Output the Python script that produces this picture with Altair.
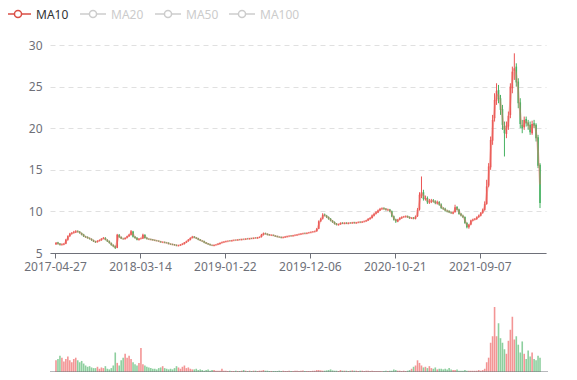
import altair as alt
import pandas as pd

# ---------------- data (one candle ≈ one trading week) ----------------
open_ = [
    6.05, 6.25, 6.12, 5.98, 6.02, 6.12, 6.58, 7.02, 7.32, 7.42,
    7.48, 7.62, 7.56, 7.38, 7.22, 6.98, 6.92, 6.78, 6.68, 6.52,
    6.38, 6.32, 6.46, 6.54, 6.72, 6.82, 6.58, 6.42, 6.18, 5.96,
    5.82, 5.62, 7.18, 6.92, 6.72, 6.68, 6.82, 7.02, 7.18, 7.58,
    6.96, 6.82, 6.58, 6.72, 6.74, 7.18, 6.82, 6.68, 6.66, 6.62,
    6.56, 6.48, 6.46, 6.38, 6.28, 6.32, 6.24, 6.22, 6.08, 6.06,
    6.02, 5.96, 5.88, 5.92, 6.02, 6.08, 6.26, 6.42, 6.58, 6.82,
    6.96, 6.84, 6.76, 6.62, 6.48, 6.42, 6.26, 6.14, 6.06, 5.94,
    5.88, 5.96, 6.02, 6.08, 6.22, 6.28, 6.36, 6.42, 6.47, 6.44,
    6.52, 6.56, 6.54, 6.62, 6.58, 6.67, 6.64, 6.72, 6.68, 6.77,
    6.74, 6.82, 6.78, 6.86, 6.92, 7.18, 7.36, 7.28, 7.22, 7.12,
    7.16, 7.08, 7.02, 6.94, 6.92, 6.84, 6.88, 6.94, 7.02, 7.08,
    7.04, 7.12, 7.14, 7.22, 7.24, 7.32, 7.38, 7.34, 7.42, 7.46,
    7.52, 7.56, 7.62, 7.92, 8.82, 9.12, 9.62, 9.48, 9.32, 9.12,
    8.88, 8.72, 8.52, 8.38, 8.46, 8.62, 8.52, 8.62, 8.52, 8.62,
    8.58, 8.68, 8.58, 8.66, 8.74, 8.68, 8.76, 8.82, 8.92, 9.08,
    9.22, 9.48, 9.72, 9.88, 10.12, 10.28, 10.38, 10.32, 10.16, 10.22,
    10.02, 9.42, 9.04, 8.78, 9.02, 9.18, 9.32, 9.34, 9.42, 9.32,
    9.18, 9.24, 9.12, 9.42, 10.22, 11.90, 12.30, 11.45, 11.62, 11.08,
    11.18, 11.32, 11.22, 10.96, 11.12, 10.82, 10.38, 10.32, 10.08, 10.04,
    9.88, 9.76, 9.92, 10.52, 10.22, 9.72, 9.48, 9.32, 8.62, 8.08,
    8.42, 8.92, 9.04, 9.08, 9.32, 9.48, 9.82, 10.18, 10.90, 13.10,
    15.30, 18.50, 21.20, 23.30, 24.60, 23.60, 22.30, 20.30, 19.30, 20.20,
    21.60, 24.80, 26.90, 27.40, 25.60, 23.10, 20.40, 20.10, 21.10, 20.70,
    20.40, 19.40, 20.60, 20.40, 18.90, 15.60,
]
close = [
    6.20, 6.10, 6.00, 6.05, 6.10, 6.60, 7.00, 7.30, 7.40, 7.50,
    7.60, 7.55, 7.40, 7.20, 7.00, 6.90, 6.80, 6.70, 6.55, 6.40,
    6.30, 6.45, 6.55, 6.70, 6.80, 6.60, 6.40, 6.20, 5.95, 5.80,
    5.60, 7.20, 6.90, 6.75, 6.70, 6.80, 7.00, 7.20, 7.60, 6.95,
    6.80, 6.60, 6.70, 6.75, 7.20, 6.80, 6.70, 6.65, 6.60, 6.55,
    6.50, 6.45, 6.40, 6.30, 6.30, 6.25, 6.20, 6.10, 6.05, 6.00,
    5.95, 5.90, 5.90, 6.00, 6.10, 6.25, 6.40, 6.60, 6.80, 6.95,
    6.85, 6.75, 6.60, 6.50, 6.40, 6.25, 6.15, 6.05, 5.95, 5.90,
    5.95, 6.00, 6.10, 6.20, 6.30, 6.35, 6.40, 6.45, 6.45, 6.50,
    6.55, 6.55, 6.60, 6.60, 6.65, 6.65, 6.70, 6.70, 6.75, 6.75,
    6.80, 6.80, 6.85, 6.90, 7.20, 7.35, 7.30, 7.20, 7.15, 7.15,
    7.10, 7.00, 6.95, 6.90, 6.85, 6.90, 6.95, 7.00, 7.05, 7.05,
    7.10, 7.15, 7.20, 7.25, 7.30, 7.35, 7.35, 7.40, 7.45, 7.50,
    7.55, 7.60, 7.90, 8.80, 9.10, 9.60, 9.50, 9.30, 9.10, 8.90,
    8.70, 8.50, 8.40, 8.45, 8.60, 8.55, 8.60, 8.55, 8.60, 8.60,
    8.65, 8.60, 8.65, 8.70, 8.70, 8.75, 8.80, 8.90, 9.10, 9.20,
    9.50, 9.70, 9.90, 10.10, 10.30, 10.35, 10.30, 10.20, 10.20, 10.00,
    9.40, 9.00, 8.80, 9.00, 9.20, 9.30, 9.35, 9.40, 9.30, 9.20,
    9.20, 9.15, 9.40, 10.20, 12.00, 12.30, 11.50, 11.60, 11.10, 11.20,
    11.30, 11.20, 11.00, 11.10, 10.80, 10.40, 10.30, 10.10, 10.00, 9.90,
    9.80, 9.90, 10.50, 10.20, 9.70, 9.50, 9.30, 8.60, 8.10, 8.40,
    8.90, 9.00, 9.10, 9.30, 9.50, 9.80, 10.20, 10.90, 13.00, 15.40,
    18.60, 21.00, 23.40, 24.50, 23.50, 22.20, 20.40, 19.40, 20.30, 21.50,
    25.00, 26.80, 27.20, 25.50, 23.00, 20.50, 20.00, 21.00, 20.60, 20.30,
    19.50, 20.50, 20.30, 18.80, 15.50, 11.00,
]
high = [
    6.32, 6.34, 6.20, 6.14, 6.18, 6.70, 7.12, 7.42, 7.52, 7.66,
    7.74, 7.72, 7.64, 7.46, 7.30, 7.06, 7.00, 6.86, 6.76, 6.60,
    6.46, 6.52, 6.62, 6.78, 6.92, 6.90, 6.66, 6.50, 6.26, 6.04,
    5.90, 7.30, 7.28, 7.00, 6.82, 6.88, 7.08, 7.30, 7.76, 7.66,
    7.04, 6.90, 6.78, 6.84, 7.32, 7.24, 6.90, 6.76, 6.72, 6.68,
    6.62, 6.56, 6.52, 6.44, 6.38, 6.38, 6.30, 6.28, 6.16, 6.12,
    6.08, 6.02, 5.98, 6.06, 6.16, 6.32, 6.48, 6.68, 6.88, 7.06,
    7.04, 6.92, 6.82, 6.68, 6.54, 6.48, 6.32, 6.20, 6.12, 6.00,
    6.00, 6.06, 6.16, 6.26, 6.36, 6.40, 6.46, 6.50, 6.52, 6.56,
    6.60, 6.62, 6.66, 6.68, 6.70, 6.72, 6.76, 6.78, 6.80, 6.82,
    6.86, 6.88, 6.92, 6.98, 7.30, 7.46, 7.44, 7.36, 7.28, 7.22,
    7.22, 7.14, 7.08, 7.00, 6.98, 6.96, 7.02, 7.06, 7.12, 7.14,
    7.16, 7.22, 7.26, 7.32, 7.36, 7.42, 7.44, 7.46, 7.52, 7.58,
    7.62, 7.68, 8.00, 8.92, 9.24, 9.78, 9.74, 9.58, 9.40, 9.20,
    8.96, 8.80, 8.60, 8.52, 8.68, 8.70, 8.68, 8.70, 8.68, 8.70,
    8.72, 8.74, 8.72, 8.78, 8.80, 8.82, 8.88, 8.98, 9.20, 9.32,
    9.62, 9.84, 10.02, 10.22, 10.42, 10.48, 10.50, 10.40, 10.32, 10.30,
    10.10, 9.50, 9.12, 9.10, 9.30, 9.40, 9.46, 9.50, 9.50, 9.40,
    9.30, 9.32, 9.50, 10.40, 12.30, 14.20, 12.60, 11.90, 11.80, 11.50,
    11.50, 11.48, 11.34, 11.30, 11.24, 10.96, 10.52, 10.44, 10.20, 10.14,
    9.98, 10.00, 10.80, 10.64, 10.32, 9.82, 9.60, 9.40, 8.72, 8.50,
    9.00, 9.12, 9.20, 9.40, 9.62, 9.92, 10.34, 11.20, 13.80, 15.80,
    19.00, 21.60, 24.20, 25.40, 25.20, 24.00, 22.80, 20.80, 20.80, 22.00,
    25.40, 27.40, 29.00, 27.80, 26.00, 23.60, 21.00, 21.40, 21.40, 21.00,
    20.80, 20.90, 21.00, 20.60, 19.20, 15.80,
]
low = [
    5.96, 6.02, 5.90, 5.90, 5.94, 6.06, 6.48, 6.94, 7.22, 7.34,
    7.40, 7.46, 7.32, 7.12, 6.92, 6.82, 6.72, 6.62, 6.46, 6.32,
    6.22, 6.26, 6.40, 6.48, 6.66, 6.52, 6.32, 6.12, 5.88, 5.70,
    5.48, 5.58, 6.82, 6.68, 6.60, 6.62, 6.76, 6.94, 7.10, 6.86,
    6.72, 6.52, 6.50, 6.66, 6.68, 6.72, 6.62, 6.58, 6.54, 6.48,
    6.44, 6.40, 6.34, 6.24, 6.22, 6.18, 6.14, 6.04, 5.98, 5.94,
    5.88, 5.82, 5.80, 5.86, 5.96, 6.02, 6.20, 6.36, 6.52, 6.76,
    6.78, 6.68, 6.54, 6.44, 6.34, 6.18, 6.08, 5.98, 5.88, 5.84,
    5.82, 5.90, 5.96, 6.02, 6.16, 6.22, 6.30, 6.36, 6.40, 6.38,
    6.46, 6.48, 6.48, 6.54, 6.52, 6.60, 6.58, 6.64, 6.62, 6.68,
    6.68, 6.74, 6.72, 6.80, 6.86, 7.10, 7.22, 7.12, 7.08, 7.06,
    7.04, 6.94, 6.88, 6.84, 6.78, 6.78, 6.82, 6.88, 6.96, 6.98,
    6.98, 7.06, 7.08, 7.16, 7.18, 7.26, 7.28, 7.28, 7.36, 7.40,
    7.46, 7.50, 7.56, 7.86, 8.72, 9.02, 9.40, 9.20, 9.00, 8.80,
    8.62, 8.42, 8.32, 8.30, 8.40, 8.48, 8.46, 8.48, 8.46, 8.52,
    8.52, 8.54, 8.52, 8.60, 8.62, 8.62, 8.70, 8.76, 8.86, 9.00,
    9.14, 9.40, 9.64, 9.80, 10.04, 10.20, 10.20, 10.10, 10.06, 9.90,
    9.30, 8.90, 8.62, 8.70, 8.94, 9.10, 9.24, 9.26, 9.22, 9.10,
    9.08, 9.06, 9.04, 9.34, 10.10, 11.60, 11.30, 11.30, 10.90, 10.90,
    11.00, 11.06, 10.86, 10.82, 10.68, 10.30, 10.18, 9.98, 9.88, 9.80,
    9.70, 9.66, 9.84, 10.10, 9.60, 9.40, 9.20, 8.50, 7.96, 7.92,
    8.34, 8.82, 8.94, 8.98, 9.22, 9.40, 9.72, 10.08, 10.80, 12.90,
    15.00, 18.00, 20.80, 22.80, 23.00, 21.60, 19.80, 16.60, 18.80, 19.80,
    21.20, 24.20, 25.80, 25.00, 22.40, 20.00, 19.40, 19.80, 20.20, 19.80,
    19.20, 19.20, 20.00, 18.40, 15.20, 10.40,
]
volume = [
    18, 20, 25, 22, 16, 20, 24, 18, 15, 20,
    22, 18, 15, 17, 13, 10, 8, 9, 7, 6,
    6, 8, 5, 7, 6, 9, 5, 4, 6, 10,
    30, 14, 10, 18, 22, 28, 22, 25, 20, 15,
    12, 10, 14, 37, 12, 10, 8, 7, 6, 5,
    5, 4, 6, 7, 9, 6, 5, 4, 5, 4,
    6, 9, 7, 5, 8, 10, 6, 7, 5, 4,
    4, 5, 3, 4, 3, 2, 3, 4, 2, 3,
    3, 2, 2, 2, 5, 2, 2, 1.5, 2, 1.5,
    1.5, 2, 1.5, 1.5, 2, 3, 2, 1.5, 2, 1.5,
    2, 2, 1.5, 2, 2, 3, 2, 2, 1.5, 1.5,
    1.5, 1.5, 1.5, 2, 1.5, 2, 1.5, 1.5, 2, 1.5,
    1.5, 2, 2, 1.5, 2, 2.5, 1.5, 1.5, 1.5, 1.5,
    2, 2, 3, 3, 2.5, 2, 2, 2.5, 3, 4,
    2.5, 2, 2, 1.5, 3, 2, 2, 2, 1.5, 2,
    2.5, 2, 2, 1.5, 2, 2, 1.5, 2, 2, 1.5,
    2, 1.5, 1.5, 1.5, 1.5, 1, 1.5, 2, 1.5, 2,
    2, 4, 3, 2, 2, 1.5, 2, 1.5, 2, 3,
    5, 8, 10, 18, 14, 10, 7, 8, 6, 9,
    6, 5, 7, 4, 5, 5, 4, 5, 4, 6,
    4, 3, 3, 4, 2, 2, 2, 3, 2, 2,
    2, 2, 2, 2, 3, 2, 3, 5, 15, 22,
    45, 55, 100, 55, 75, 52, 45, 35, 28, 48,
    65, 85, 50, 55, 42, 30, 47, 28, 20, 33,
    24, 30, 20, 18, 25, 22,
]

tick_index = [0, 43, 86, 129, 172, 215]
tick_labels = ["2017-04-27", "2018-03-14", "2019-01-22", "2019-12-06", "2020-10-21", "2021-09-07"]

legend_names = ["MA10", "MA20", "MA50", "MA100"]
legend_active = [True, False, False, False]

N = len(close)
assert len(open_) == N and len(high) == N and len(low) == N and len(volume) == N, (
    len(open_), len(close), len(high), len(low), len(volume))

df = pd.DataFrame({
    "i": list(range(N)),
    "open": open_, "close": close, "high": high, "low": low, "vol": volume,
})

# ---------------- styling ----------------
UP = "#eb5454"
DOWN = "#47b262"
MA_COLOR = "#d94e45"
MA_LINE = "#ec7063"
AXIS = "#6e7079"
FONT = "Noto Sans"

W, H = 496, 327
PRICE_H = 208
VOL_TOP = 262

label_expr = " : ".join(
    f"datum.value == {k} ? '{t}'" for k, t in zip(tick_index, tick_labels)
) + " : ''"

xenc = alt.X(
    "xc:Q",
    scale=alt.Scale(domain=[0, N], nice=False, zero=False),
    axis=alt.Axis(
        values=tick_index, labelExpr=label_expr, title=None, grid=False,
        offset=-(H - PRICE_H), labelFlush=False, labelOverlap=False,
        domainColor=AXIS, tickColor=AXIS, tickSize=5, labelColor=AXIS,
        labelFontSize=12, labelFont=FONT, labelPadding=3,
    ),
)

price_scale = alt.Scale(domain=[5, 30], range=[PRICE_H, 0], nice=False, zero=False)
price_axis = alt.Axis(
    values=[5, 10, 15, 20, 25, 30], title=None, domain=False, ticks=False, tickSize=0,
    labelPadding=8, labelColor=AXIS, labelFontSize=12, labelFont=FONT,
    gridColor="#e0e0e0", gridDash=[5, 4],
)

base = alt.Chart(df).transform_calculate(
    xc="datum.i + 0.5",
    dir="datum.close >= datum.open ? 'up' : 'down'",
)
color = alt.Color("dir:N", scale=alt.Scale(domain=["up", "down"], range=[UP, DOWN]), legend=None)

wick = base.mark_rule(strokeWidth=1).encode(
    x=xenc,
    y=alt.Y("low:Q", scale=price_scale, axis=price_axis),
    y2="high:Q",
    color=color,
)
body = base.mark_bar(size=1.6).encode(
    x=xenc,
    y=alt.Y("open:Q", scale=price_scale, axis=price_axis),
    y2="close:Q",
    color=color,
)
ma = base.transform_window(
    ma10="mean(close)", frame=[-1, 0], sort=[alt.SortField("i")]
).mark_line(color=MA_LINE, opacity=0.4, strokeWidth=2, interpolate="monotone").encode(
    x=xenc,
    y=alt.Y("ma10:Q", scale=price_scale, axis=price_axis),
)
price = alt.layer(wick, body, ma)

vol = base.mark_bar(size=1.6, opacity=0.62).encode(
    x=xenc,
    y=alt.Y("vol:Q", scale=alt.Scale(domain=[0, 100], range=[H, VOL_TOP], nice=False), axis=None),
    color=color,
)

baseline = alt.Chart(alt.Data(values=[{}])).mark_rule(color=AXIS, strokeWidth=1).encode(
    x=alt.value(0), x2=alt.value(W + 2), y=alt.value(H)
)

# ---------------- legend (ECharts-style, top left) ----------------
leg_line_x0 = [-45, 30, 105, 179]
LEG_Y = -31
legend_layers = []
for name, active, x0 in zip(legend_names, legend_active, leg_line_x0):
    c = MA_COLOR if active else "#cccccc"
    tc = "#333333" if active else "#cccccc"
    d = alt.Data(values=[{"name": name}])
    legend_layers.append(
        alt.Chart(d).mark_rule(color=c, strokeWidth=1.5).encode(
            x=alt.value(x0), x2=alt.value(x0 + 26), y=alt.value(LEG_Y))
    )
    legend_layers.append(
        alt.Chart(d).mark_point(shape="circle", filled=True, fill="white", stroke=c,
                                strokeWidth=1.5, size=50, opacity=1).encode(
            x=alt.value(x0 + 13), y=alt.value(LEG_Y))
    )
    legend_layers.append(
        alt.Chart(d).mark_text(align="left", baseline="middle", fontSize=12, font=FONT,
                               color=tc).encode(
            x=alt.value(x0 + 31), y=alt.value(LEG_Y + 1), text="name:N")
    )

chart = alt.layer(price, vol, baseline, *legend_layers).resolve_scale(
    y="independent"
).properties(
    width=W, height=H,
    autosize=alt.AutoSizeParams(type="none"),
    padding={"left": 42, "top": 37, "right": 23, "bottom": 0},
).configure_view(stroke=None)

chart.save("out.html", embed_options={"renderer": "svg", "actions": False})
